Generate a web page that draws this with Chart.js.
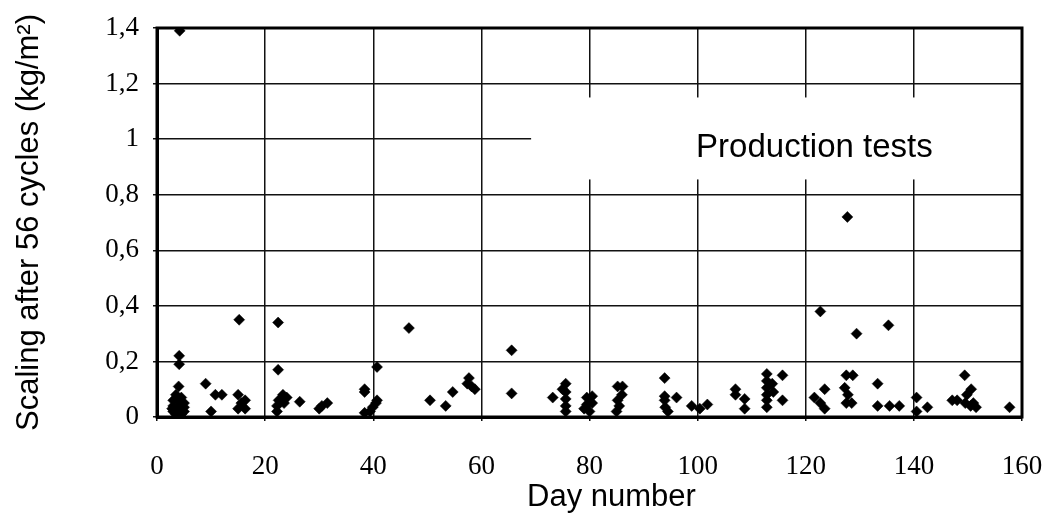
<!DOCTYPE html>
<html>
<head>
<meta charset="utf-8">
<script src="https://cdn.jsdelivr.net/npm/chart.js@4.4.1/dist/chart.umd.min.js"></script>
<style>
  html, body { margin: 0; padding: 0; background: #fff; }
  #wrap { width: 1051px; height: 526px; }
</style>
</head>
<body>
<div id="wrap"><canvas id="chart-scaling" width="1051" height="526"></canvas></div>
<script>
// ── Data ────────────────────────────────────────────────────────────────────

const dayNumber = [
    4.2, 4.1, 4.1, 4.0, 3.5, 4.5, 3.0, 4.0, 5.0, 3.0, 4.0, 5.0, 3.0, 4.0, 5.0, 3.5, 4.5, 2.8,
    9.0, 10.0, 10.8, 12.0,
    15.2, 15.0, 16.3, 15.0, 16.3, 15.6,
    22.4, 22.4, 23.3, 22.5, 22.2, 22.2, 23.5, 24.0, 26.4,
    30.5, 31.5, 30.0,
    38.4, 38.4, 40.7, 40.7, 39.4, 38.4, 39.9, 40.5,
    46.6, 50.5, 53.4, 54.7, 57.7, 57.4, 58.2, 58.8,
    65.6, 65.6, 73.2,
    75.6, 75.6, 75.6, 75.6, 75.6, 75.0,
    79.5, 79.5, 80.0, 80.5, 79.0, 80.5,
    85.2, 86.1, 86.0, 85.2, 85.0, 85.5,
    93.9, 93.9, 93.9, 94.0, 94.5, 96.1,
    98.9, 100.4, 101.8,
    107.0, 107.0, 108.7, 108.7,
    112.8, 112.8, 112.8, 112.8, 112.8, 112.8, 113.8, 114.0, 115.7, 115.7,
    121.6, 123.5, 122.7, 123.5, 122.7,
    127.7, 127.5, 128.7, 127.2, 127.8, 127.5, 128.5, 129.4,
    133.3, 133.3, 135.3, 135.5, 137.3,
    140.5, 140.5, 142.5,
    147.1, 148.0, 149.4, 150.6, 149.8, 149.5, 150.5, 151.5, 151.0,
    157.7,
];

const scaling = [
    1.39, 0.22, 0.19, 0.11, 0.08, 0.07, 0.06, 0.06, 0.05, 0.04, 0.04, 0.035, 0.02, 0.025, 0.02, 0.01, 0.01, 0.03,
    0.12, 0.02, 0.08, 0.08,
    0.35, 0.08, 0.06, 0.03, 0.03, 0.05,
    0.34, 0.17, 0.08, 0.06, 0.04, 0.02, 0.05, 0.07, 0.055,
    0.04, 0.05, 0.03,
    0.10, 0.09, 0.18, 0.06, 0.02, 0.015, 0.035, 0.05,
    0.32, 0.06, 0.04, 0.09, 0.14, 0.12, 0.11, 0.10,
    0.24, 0.085, 0.07,
    0.12, 0.09, 0.065, 0.04, 0.02, 0.10,
    0.07, 0.045, 0.02, 0.075, 0.03, 0.05,
    0.11, 0.11, 0.08, 0.06, 0.02, 0.04,
    0.14, 0.075, 0.06, 0.035, 0.02, 0.07,
    0.04, 0.03, 0.045,
    0.10, 0.08, 0.065, 0.03,
    0.155, 0.13, 0.105, 0.08, 0.06, 0.035, 0.12, 0.09, 0.15, 0.06,
    0.07, 0.10, 0.05, 0.03, 0.38,
    0.72, 0.15, 0.15, 0.105, 0.08, 0.05, 0.05, 0.30,
    0.12, 0.04, 0.33, 0.04, 0.04,
    0.07, 0.02, 0.035,
    0.06, 0.06, 0.15, 0.10, 0.08, 0.05, 0.04, 0.035, 0.05,
    0.035,
];

const xTicks = [0, 20, 40, 60, 80, 100, 120, 140, 160];
const yTicks = [0, 0.2, 0.4, 0.6, 0.8, 1, 1.2, 1.4];
const seriesLabel = 'Production tests';
const xTitle = 'Day number';

// ── Helpers ─────────────────────────────────────────────────────────────────

const serif = 'Liberation Serif, Times New Roman, serif';
const sans = 'Liberation Sans, Arial, Helvetica, sans-serif';

// comma decimal separator, as in the original
const commaFmt = (v) => (Number.isInteger(v) ? String(v) : v.toFixed(1).replace('.', ','));

// white box with the series label, masking the grid behind it
const labelBox = {
    id: 'labelBox',
    beforeDatasetsDraw(chart) {
        const { ctx, scales: { x, y } } = chart;
        const left = x.getPixelForValue(69.2);
        const right = x.getPixelForValue(160);
        const top = y.getPixelForValue(1.15);
        const bottom = y.getPixelForValue(0.855);
        ctx.save();
        ctx.fillStyle = '#fff';
        ctx.fillRect(left, top, right - left, bottom - top);
        ctx.fillStyle = '#000';
        ctx.font = `33px ${sans}`;
        ctx.textAlign = 'center';
        ctx.textBaseline = 'middle';
        ctx.fillText(seriesLabel, x.getPixelForValue(121.6), y.getPixelForValue(0.967));
        ctx.restore();
    },
};

// heavy frame round the plot area, plus the x title (sits right of centre in the original)
const frame = {
    id: 'frame',
    afterDatasetsDraw(chart) {
        const { ctx, chartArea: a } = chart;
        ctx.save();
        ctx.strokeStyle = '#000';
        ctx.lineWidth = 3;
        ctx.strokeRect(a.left, a.top, a.right - a.left, a.bottom - a.top);
        ctx.fillStyle = '#000';
        ctx.font = `31px ${sans}`;
        ctx.textAlign = 'center';
        ctx.textBaseline = 'middle';
        ctx.fillText(xTitle, (a.left + a.right) / 2 + 22, a.bottom + 80);
        ctx.restore();
    },
};

// ── Chart ───────────────────────────────────────────────────────────────────

const points = dayNumber.map((d, i) => ({ x: d, y: scaling[i] }));

new Chart(document.getElementById('chart-scaling'), {
    type: 'scatter',
    data: {
        datasets: [
            {
                label: seriesLabel,
                data: points,
                pointStyle: 'rectRot',
                pointRadius: 5.5,
                pointHoverRadius: 5.5,
                backgroundColor: '#000',
                borderColor: '#000',
                borderWidth: 0.5,
                clip: 0,
            },
        ],
    },
    options: {
        responsive: false,
        devicePixelRatio: 1,
        animation: false,
        layout: { padding: { top: 28, right: 29, left: 0, bottom: 0 } },
        plugins: {
            legend: { display: false },
            tooltip: { enabled: false },
        },
        scales: {
            x: {
                type: 'linear',
                min: xTicks[0],
                max: xTicks[xTicks.length - 1],
                afterBuildTicks: (s) => { s.ticks = xTicks.map((v) => ({ value: v })); },
                afterFit: (s) => {
                    s.height = 109;
                    s.paddingLeft = 0;
                    s.paddingRight = 0;
                },
                grid: { color: '#111', lineWidth: 1.5, drawTicks: true, tickLength: 4 },
                border: { display: true, color: '#000', width: 3 },
                ticks: {
                    color: '#000',
                    padding: 30,
                    maxRotation: 0,
                    font: { family: serif, size: 27 },
                    callback: (v) => String(v),
                },
            },
            y: {
                type: 'linear',
                min: yTicks[0],
                max: yTicks[yTicks.length - 1],
                afterBuildTicks: (s) => { s.ticks = yTicks.map((v) => ({ value: v })); },
                afterFit: (s) => {
                    s.width = 157;
                    s.paddingTop = 0;
                    s.paddingBottom = 0;
                },
                grid: { color: '#111', lineWidth: 1.5, drawTicks: true, tickLength: 4 },
                border: { display: true, color: '#000', width: 3 },
                ticks: {
                    color: '#000',
                    padding: 14,
                    font: { family: serif, size: 27 },
                    callback: (v) => commaFmt(v),
                },
                title: {
                    display: true,
                    text: 'Scaling after 56 cycles (kg/m²)',
                    color: '#000',
                    font: { family: sans, size: 31 },
                    padding: 11,
                },
            },
        },
    },
    plugins: [labelBox, frame],
});
</script>
</body>
</html>
